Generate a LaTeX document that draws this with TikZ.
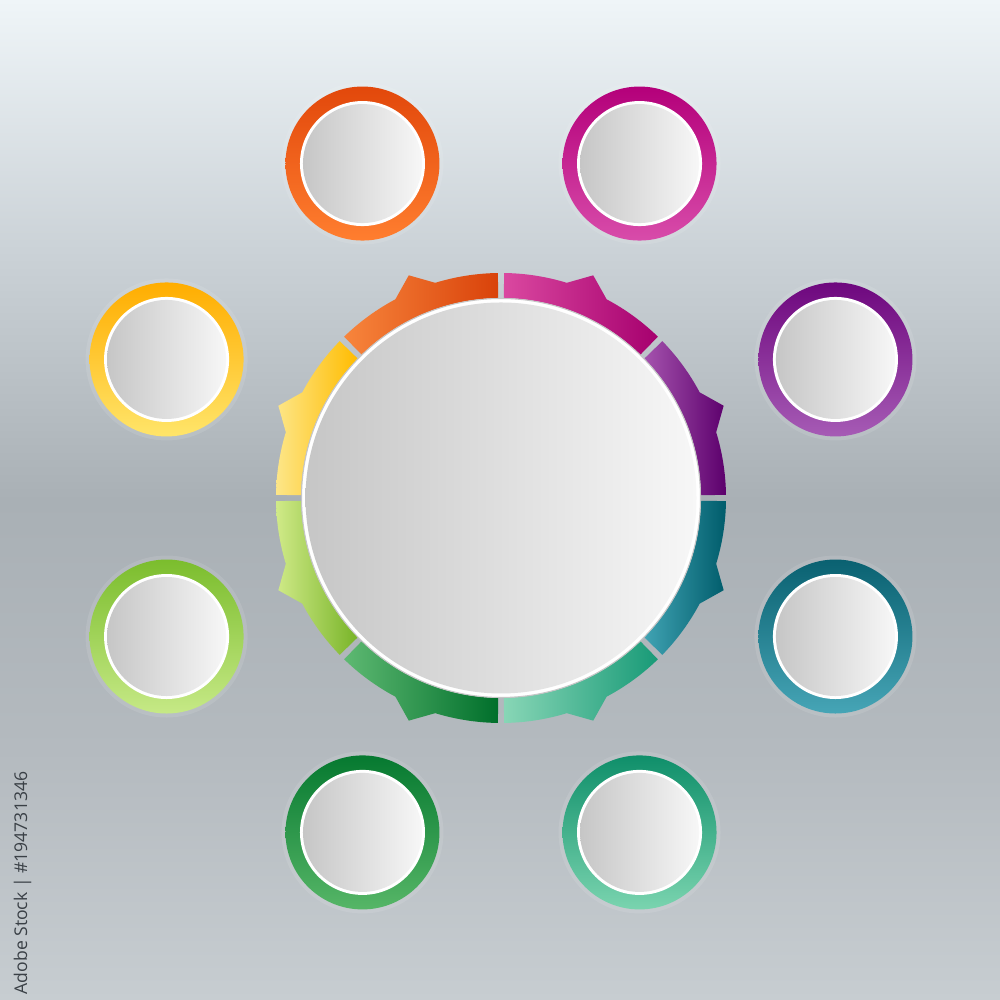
\documentclass[tikz,border=0pt]{standalone}
\usepackage{fontspec}
\setsansfont{Open Sans}
\usepackage{tikz}
\usetikzlibrary{calc,positioning,shapes,backgrounds}

% backdrop colours
\definecolor{bgtop}{HTML}{EFF5F8}
\definecolor{bghigh}{HTML}{CBD2D7}
\definecolor{bgmid}{HTML}{A9B0B5}
\definecolor{bglow}{HTML}{B4BABF}
\definecolor{bgbot}{HTML}{C7CDD1}
\definecolor{wmark}{HTML}{3A4046}
% faces
\definecolor{faceL}{HTML}{C6C6C6}
\definecolor{faceR}{HTML}{F7F7F7}
% ring pieces, light and dark ends
\definecolor{purL}{HTML}{A553AE}  \definecolor{purD}{HTML}{5C006C}
\definecolor{magL}{HTML}{DA48A0}  \definecolor{magD}{HTML}{A6006E}
\definecolor{oraL}{HTML}{F7853C}  \definecolor{oraD}{HTML}{D9420A}
\definecolor{yelL}{HTML}{FDE688}  \definecolor{yelD}{HTML}{FFBC00}
\definecolor{limL}{HTML}{D0EA88}  \definecolor{limD}{HTML}{78B428}
\definecolor{grnL}{HTML}{5EB972}  \definecolor{grnD}{HTML}{006F2B}
\definecolor{seaL}{HTML}{88D6B6}  \definecolor{seaD}{HTML}{189A77}
\definecolor{tealL}{HTML}{40A3B3} \definecolor{tealD}{HTML}{005C6B}
% bubble rims, top and bottom
\definecolor{oraT}{HTML}{E2480B}  \definecolor{oraB}{HTML}{FF7E2F}
\definecolor{magT}{HTML}{B4007A}  \definecolor{magB}{HTML}{D84CAA}
\definecolor{purT}{HTML}{6E077E}  \definecolor{purB}{HTML}{A65BB5}
\definecolor{tealT}{HTML}{0A6171} \definecolor{tealB}{HTML}{46A5B6}
\definecolor{seaT}{HTML}{0F8F6A}  \definecolor{seaB}{HTML}{7AD4AF}
\definecolor{grnT}{HTML}{067930}  \definecolor{grnB}{HTML}{56B667}
\definecolor{limT}{HTML}{7BBD2D}  \definecolor{limB}{HTML}{C6E986}
\definecolor{yelT}{HTML}{FFAD00}  \definecolor{yelB}{HTML}{FFE56A}

\pgfdeclareverticalshading{backdrop}{100bp}{color(0bp)=(bgbot); color(25bp)=(bgbot);
  color(37.5bp)=(bglow); color(50bp)=(bgmid); color(62.5bp)=(bghigh);
  color(75bp)=(bgtop); color(100bp)=(bgtop)}

\tikzstyle{glow}      = [circle, fill=white, opacity=0.1, minimum size=1.62cm, inner sep=0pt]
\tikzstyle{bubble}    = [circle, minimum size=1.54cm, inner sep=0pt]
\tikzstyle{rim}       = [circle, fill=white, minimum size=1.25cm, inner sep=0pt]
\tikzstyle{face}      = [circle, minimum size=1.19cm, inner sep=0pt, left color=faceL, right color=faceR]
\tikzstyle{hub_rim}   = [circle, fill=white, draw=gray!45, line width=0.3pt, minimum size=3.99cm, inner sep=0pt]
\tikzstyle{hub_face}  = [circle, minimum size=3.91cm, inner sep=0pt, left color=faceL, right color=faceR]

% one piece of the ring, with its tooth in the middle
\newcommand{\ringpart}[3]{%
  \shade[left color=#2, right color=#3]
    ([shift={(hub)}]#1+0.8:2.0) -- ([shift={(hub)}]#1+0.8:2.25)
    arc[start angle=#1+0.8, end angle=#1+17, radius=2.25]
    -- ([shift={(hub)}]#1+22.5:2.41) -- ([shift={(hub)}]#1+28:2.25)
    arc[start angle=#1+28, end angle=#1+44.2, radius=2.25]
    -- ([shift={(hub)}]#1+44.2:2.0)
    arc[start angle=#1+44.2, end angle=#1+0.8, radius=2.0] -- cycle;}

% one outer bubble
\newcommand{\bubbleat}[4]{%
  \node[glow] at ([shift={(#2:3.62)}]hub) {};
  \node[bubble, top color=#3, bottom color=#4] (#1) at ([shift={(#2:3.62)}]hub) {};
  \node[rim] at (#1) {};
  \node[face] (#1_face) at (#1) {};}

\begin{document}
\begin{tikzpicture}
  \useasboundingbox (0,0) rectangle (10,10);
  \shade[shading=backdrop] (0,0) rectangle (10,10);

  \coordinate (hub) at (5.01,5.02);

  % ring
  \ringpart{0}{purL}{purD}
  \ringpart{45}{magL}{magD}
  \ringpart{90}{oraL}{oraD}
  \ringpart{135}{yelL}{yelD}
  \ringpart{180}{limL}{limD}
  \ringpart{225}{grnL}{grnD}
  \ringpart{270}{seaL}{seaD}
  \ringpart{315}{tealL}{tealD}

  % centre
  \node[hub_rim] (hub_c) at (hub) {};
  \node[hub_face] (hub_f) at (hub_c) {};

  % bubbles
  \bubbleat{orange}{112.5}{oraT}{oraB}
  \bubbleat{magenta}{67.5}{magT}{magB}
  \bubbleat{purple}{22.5}{purT}{purB}
  \bubbleat{teal}{-22.5}{tealT}{tealB}
  \bubbleat{seagreen}{-67.5}{seaT}{seaB}
  \bubbleat{green}{-112.5}{grnT}{grnB}
  \bubbleat{lime}{-157.5}{limT}{limB}
  \bubbleat{yellow}{157.5}{yelT}{yelB}

  \node[rotate=90, text=wmark, font=\sffamily\fontsize{5}{6}\selectfont] (stock_id) at (0.225,1.17) {Adobe Stock | \#194731346};
\end{tikzpicture}
\end{document}
